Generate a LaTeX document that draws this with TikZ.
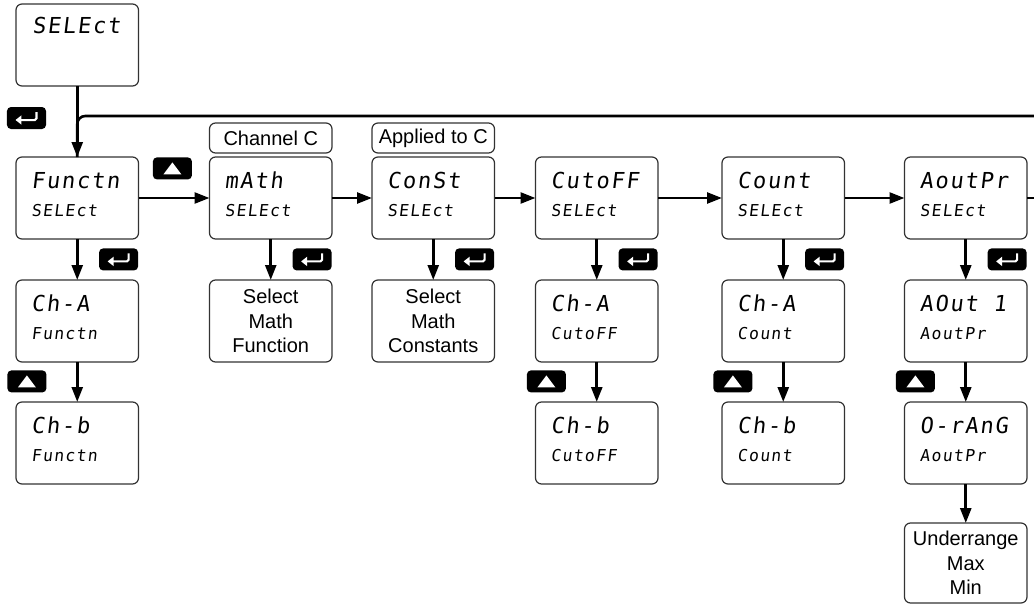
\documentclass[tikz,border=0pt]{standalone}
\usepackage{fontspec}
\setmainfont{Liberation Sans}
\newfontfamily\lcdfont[FakeSlant=0.12,LetterSpace=8]{DejaVu Sans Mono}
\usetikzlibrary{arrows.meta,positioning,calc}
\tikzset{
  lcd/.style={rectangle,rounded corners=3pt,draw=black!80,line width=0.6pt,
              minimum width=61.25pt,minimum height=41pt,inner sep=0pt,outer sep=0pt},
  lcdbig/.style={anchor=base west,inner sep=0pt,font=\lcdfont\fontsize{11}{13}\selectfont},
  lcdsmall/.style={anchor=base west,inner sep=0pt,font=\lcdfont\fontsize{8.2}{10}\selectfont},
  info/.style={lcd,align=center,font=\fontsize{10}{12.25}\selectfont},
  tag/.style={lcd,minimum height=15pt,font=\fontsize{10}{12}\selectfont},
  flow/.style={-{Triangle[length=7.5pt,width=5.5pt]},line width=1.3pt},
  wire/.style={line width=1.3pt},
  enterkey/.style={rectangle,rounded corners=2pt,fill=black,inner sep=0pt,
              minimum width=19.5pt,minimum height=11pt,
              path picture={\draw[white,line width=1pt,rounded corners=0.8pt,
                -{Triangle[length=3pt,width=4.5pt]}]
                ([shift={(5pt,3pt)}]path picture bounding box.center) |-
                ([shift={(-5.5pt,-1pt)}]path picture bounding box.center);}},
  upkey/.style={rectangle,rounded corners=2pt,fill=black,inner sep=0pt,
              minimum width=19.5pt,minimum height=11pt,
              path picture={\fill[white,sharp corners]
                ([shift={(-4.5pt,-3pt)}]path picture bounding box.center) --
                ([shift={(4.5pt,-3pt)}]path picture bounding box.center) --
                ([shift={(0pt,3pt)}]path picture bounding box.center) -- cycle;}},
}
% display box with two lines of LCD text
\newcommand{\lcdbox}[4]{%
  \node[lcd,#2] (#1) {};
  \node[lcdbig] (#1-top) at ([shift={(7.5pt,-15.5pt)}]#1.north west) {#3};
  \node[lcdsmall] (#1-bot) at ([shift={(7.5pt,-29.5pt)}]#1.north west) {#4};}

\begin{document}
\begin{tikzpicture}[node distance=20.5pt]
  \useasboundingbox (-38.625pt,22.5pt) rectangle (478.375pt,-280pt);
  \node[lcd] (sel) at (0,0) {};
  \node[lcdbig] (sel-top) at ([shift={(8pt,-15pt)}]sel.north west) {SELEct};
  % top row
  \lcdbox{fn}{below=35.5pt of sel}{Functn}{SELEct}
  \lcdbox{math}{right=35.5pt of fn}{mAth}{SELEct}
  \lcdbox{const}{right=20pt of math}{ConSt}{SELEct}
  \lcdbox{cut}{right=20.5pt of const}{CutoFF}{SELEct}
  \lcdbox{cnt}{right=32pt of cut}{Count}{SELEct}
  \lcdbox{aout}{right=30pt of cnt}{AoutPr}{SELEct}
  \node[tag,above=2pt of math] (chc) {Channel C};
  \node[tag,above=2pt of const] (appc) {Applied to C};
  % second row
  \lcdbox{fnA}{below=of fn}{Ch-A}{Functn}
  \node[info,below=of math] (mathsel) {Select\\Math\\Function};
  \node[info,below=of const] (constsel) {Select\\Math\\Constants};
  \lcdbox{cutA}{below=of cut}{Ch-A}{CutoFF}
  \lcdbox{cntA}{below=of cnt}{Ch-A}{Count}
  \lcdbox{aoutA}{below=of aout}{AOut 1}{AoutPr}
  % third row
  \lcdbox{fnB}{below=20pt of fnA}{Ch-b}{Functn}
  \lcdbox{cutB}{below=20pt of cutA}{Ch-b}{CutoFF}
  \lcdbox{cntB}{below=20pt of cntA}{Ch-b}{Count}
  \lcdbox{aoutB}{below=20pt of aoutA}{O-rAnG}{AoutPr}
  \node[info,minimum height=40pt,below=19.5pt of aoutB] (aoutsel) {Underrange\\Max\\Min};
  % keys
  \node[enterkey] (k0) at (-25.375pt,-36.5pt) {};
  \node[upkey,right=7pt of fn.north east,anchor=north west] (u0) {};
  \foreach \b in {fn,math,const,cut,cnt,aout}
    \node[enterkey,below=4.5pt of \b.south east,anchor=north east] (k-\b) {};
  \foreach \b in {fnA,cutA,cntA,aoutA}
    \node[upkey,below=4pt of \b.south west,anchor=north west,xshift=-4.5pt] (u-\b) {};
  % loop back and continuation
  \coordinate (loopR) at (478.375pt,-35.5pt);
  \coordinate (aoutR) at (aout.east -| loopR);
  \draw[wire,rounded corners=4pt] (loopR) -| (fn.north);
  \draw[flow] (sel) -- (fn);
  \draw[flow] (fn) -- (math);
  \draw[flow] (math) -- (const);
  \draw[flow] (const) -- (cut);
  \draw[flow] (cut) -- (cnt);
  \draw[flow] (cnt) -- (aout);
  \draw[wire] (aout) -- (aoutR);
  \draw[flow] (fn) -- (fnA);
  \draw[flow] (fnA) -- (fnB);
  \draw[flow] (math) -- (mathsel);
  \draw[flow] (const) -- (constsel);
  \draw[flow] (cut) -- (cutA);
  \draw[flow] (cutA) -- (cutB);
  \draw[flow] (cnt) -- (cntA);
  \draw[flow] (cntA) -- (cntB);
  \draw[flow] (aout) -- (aoutA);
  \draw[flow] (aoutA) -- (aoutB);
  \draw[flow] (aoutB) -- (aoutsel);
\end{tikzpicture}
\end{document}
